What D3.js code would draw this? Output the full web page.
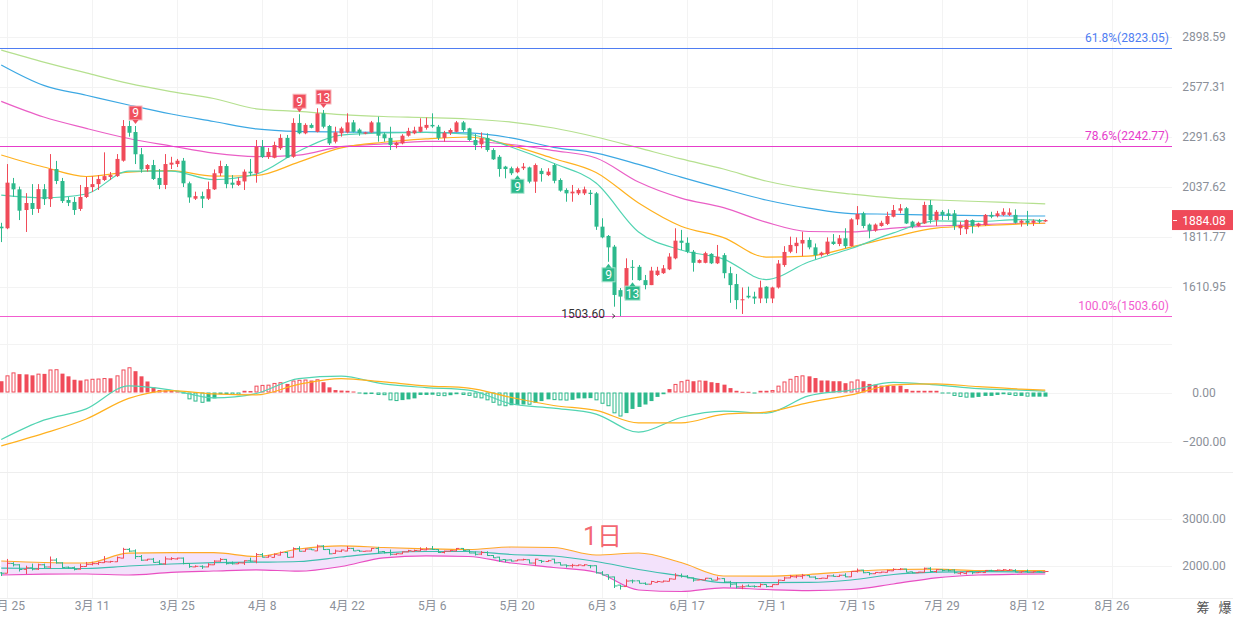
<!DOCTYPE html>
<html>
<head>
<meta charset="utf-8">
<title>日K</title>
<style>
  body { margin: 0; background: #fff; }
  svg text { font-family: Roboto, "Noto Sans CJK SC", sans-serif; }
</style>
</head>
<body>
<svg id="chart" width="1233" height="617"></svg>
<script src="https://cdnjs.cloudflare.com/ajax/libs/d3/7.8.5/d3.min.js"></script>
<script>
// ---- data ----
var firstDay = '2023-02-24';

// [open, high, low, close], one per day
var ohlc = [
  [1855,1872,1789,1848],[1848,2149,1844,2057],[2054,2080,1990,2025],[2025,2038,1884,1926],[1929,2007,1832,1961],
  [1961,2050,1907,1934],[1934,2050,1916,2026],[2026,2050,1952,1979],[1979,2200,1943,2124],[2124,2165,2050,2065],
  [2065,2080,1961,1970],[1975,1989,1947,1962],[1966,1989,1907,1929],[1934,2046,1925,1989],[1989,2085,1984,2036],
  [2036,2089,2012,2050],[2050,2094,2022,2075],[2070,2209,2065,2089],[2085,2109,2070,2094],[2089,2200,2085,2175],
  [2166,2383,2161,2350],[2350,2379,2292,2313],[2317,2350,2149,2199],[2199,2232,2106,2122],[2124,2149,2111,2144],
  [2144,2170,2070,2075],[2080,2124,2026,2046],[2046,2200,2026,2149],[2146,2186,2124,2156],[2149,2175,2134,2166],
  [2166,2180,2036,2054],[2054,2062,1962,1987],[1981,2014,1975,1993],[1993,2014,1938,1981],[1981,2062,1975,2026],
  [2025,2122,2022,2103],[2103,2166,2089,2139],[2139,2149,2030,2050],[2057,2094,2030,2047],[2046,2083,2041,2066],
  [2063,2122,2022,2111],[2111,2175,2089,2103],[2103,2274,2057,2239],[2239,2274,2180,2185],[2185,2232,2175,2211],
  [2181,2265,2178,2247],[2230,2305,2221,2285],[2285,2301,2180,2181],[2186,2393,2181,2367],[2367,2416,2305,2310],
  [2310,2365,2305,2356],[2356,2365,2337,2340],[2318,2450,2315,2421],[2421,2440,2337,2346],[2350,2356,2247,2256],
  [2265,2346,2256,2315],[2310,2346,2292,2337],[2315,2421,2310,2370],[2370,2383,2315,2318],[2330,2337,2297,2312],
  [2308,2318,2305,2315],[2315,2378,2312,2370],[2370,2402,2265,2297],[2305,2315,2265,2283],[2285,2346,2221,2247],
  [2247,2265,2230,2259],[2256,2305,2251,2297],[2297,2340,2292,2323],[2310,2346,2305,2326],[2318,2393,2315,2346],
  [2340,2397,2330,2356],[2356,2421,2340,2348],[2346,2356,2274,2285],[2285,2323,2265,2313],[2313,2337,2301,2328],
  [2318,2378,2315,2370],[2370,2378,2318,2328],[2337,2340,2269,2274],[2274,2306,2221,2247],[2251,2315,2230,2283],
  [2285,2310,2212,2221],[2221,2230,2170,2173],[2186,2195,2086,2124],[2136,2140,2078,2124],[2128,2136,2094,2103],
  [2108,2136,2103,2128],[2128,2154,2119,2136],[2132,2136,2054,2062],[2062,2152,2008,2144],[2115,2128,2062,2099],
  [2094,2128,2089,2111],[2144,2152,2054,2066],[2070,2078,2014,2019],[2022,2030,1967,2006],[2006,2046,1967,2014],
  [2006,2030,1998,2022],[2006,2038,1998,2025],[2009,2022,1952,2003],[2006,2012,1841,1855],[1855,1892,1805,1809],
  [1815,1819,1708,1767],[1770,1777,1537,1580],[1598,1606,1503.6,1574],[1567,1722,1564,1683],[1688,1715,1636,1686],
  [1688,1695,1634,1636],[1636,1656,1601,1617],[1617,1688,1617,1673],[1656,1688,1652,1673],[1663,1695,1660,1682],
  [1678,1743,1675,1729],[1722,1848,1718,1795],[1795,1841,1756,1786],[1786,1809,1743,1749],[1749,1756,1669,1704],
  [1704,1718,1702,1715],[1704,1749,1702,1743],[1740,1743,1699,1702],[1702,1777,1699,1729],[1735,1743,1643,1663],
  [1663,1688,1551,1617],[1621,1660,1528,1561],[1561,1608,1511,1564],[1577,1611,1567,1571],[1574,1592,1547,1567],
  [1567,1634,1550,1608],[1611,1613,1550,1567],[1567,1611,1550,1608],[1608,1715,1604,1701],[1695,1772,1688,1748],
  [1749,1812,1743,1777],[1772,1809,1743,1786],[1783,1833,1731,1798],[1798,1809,1759,1767],[1767,1783,1718,1735],
  [1735,1749,1729,1745],[1740,1809,1735,1791],[1791,1823,1777,1781],[1781,1819,1772,1805],[1805,1848,1763,1772],
  [1772,1892,1770,1887],[1887,1947,1862,1911],[1914,1921,1848,1858],[1864,1869,1805,1838],[1838,1869,1833,1864],
  [1858,1881,1855,1872],[1867,1921,1862,1902],[1899,1952,1896,1929],[1926,1956,1914,1937],[1937,1943,1867,1869],
  [1877,1881,1848,1855],[1858,1877,1855,1872],[1869,1967,1867,1952],[1952,1975,1869,1884],[1884,1929,1858,1921],
  [1921,1929,1884,1907],[1914,1932,1884,1902],[1914,1929,1841,1858],[1848,1877,1819,1862],[1844,1887,1823,1884],
  [1884,1887,1826,1858],[1858,1872,1852,1869],[1862,1911,1858,1907],[1907,1921,1892,1899],[1902,1925,1896,1914],
  [1907,1937,1902,1921],[1907,1937,1902,1918],[1907,1932,1869,1872],[1872,1887,1855,1881],[1881,1925,1858,1872],
  [1872,1887,1858,1881],[1881,1889,1869,1878],[1878,1887,1876,1884.08]
];

// moving averages, read every 7th day
var maDays = [0,7,14,21,28,35,42,49,56,63,70,77,84,91,98,105,112,119,126,133,140,147,154,161,168,172];
var maTeal = [1998,1985,2003,2114,2114,2072,2099,2215,2300,2312,2315,2305,2237,2153,2055,1832,1756,1719,1638,1707,1762,1828,1880,1878,1886,1881];
var maOrange = [2195,2134,2087,2109,2116,2089,2092,2159,2232,2262,2280,2290,2245,2177,2107,1961,1857,1808,1727,1731,1768,1811,1849,1858,1867,1870];
var maPink = [2490,2400,2337,2282,2242,2205,2187,2195,2239,2253,2267,2266,2250,2218,2180,2060,1984,1940,1875,1834,1832,1849,1858,1864,1869,1870];
var maBlue = [2712,2585,2526,2469,2417,2375,2334,2320,2317,2315,2315,2312,2285,2235,2205,2147,2084,2027,1975,1938,1913,1910,1906,1904,1902,1902];
var maGreen = [2809,2731,2662,2597,2548,2507,2447,2432,2414,2403,2397,2389,2372,2339,2290,2232,2175,2124,2065,2027,2003,1984,1975,1968,1961,1957];

// MACD
var macdHist = [
  46,70,82,75,74,70,77,76,94,95,
  77,66,52,49,53,56,57,59,58,70,
  94,103,87,66,45,21,10,9,8,7,
  -4,-28,-37,-42,-37,-24,-7,-6,-10,-11,
  7,6,28,31,32,39,42,35,49,52,
  53,49,54,42,21,10,8,7,4,-4,
  -7,-6,-10,-11,-32,-35,-31,-28,-24,-10,
  -10,-9,-14,-15,-11,-7,-10,-14,-21,-24,
  -32,-42,-53,-56,-52,-51,-49,-50,-42,-35,
  -28,-31,-32,-33,-30,-24,-24,-23,-32,-46,
  -56,-85,-98,-84,-67,-59,-49,-35,-18,-7,
  14,35,46,52,46,49,48,42,39,32,
  18,7,3,3,-3,7,7,10,28,45,
  56,67,70,66,59,49,49,46,46,38,
  45,53,46,35,32,28,28,28,28,14,
  7,7,7,7,7,-4,-4,-14,-18,-21,
  -21,-18,-14,-14,-10,-7,-10,-14,-14,-17,
  -17,-17,-17
];
var macdDif = [-192,-113,-67,27,10,-22,-4,57,67,35,20,10,-46,-64,-88,-162,-102,-76,-84,-14,10,41,31,16,10,6];
var macdDea = [-218,-167,-108,-24,8,-6,-10,33,57,43,27,18,-20,-53,-73,-124,-124,-89,-80,-41,-10,31,35,24,14,10];

// lower panel band
var bandUpper = [2105,2074,2063,2269,2280,2280,2200,2358,2425,2389,2362,2347,2400,2389,2232,2274,2074,1790,1785,1821,1884,1926,1933,1903,1903,1903];
var bandMid = [1954,1947,1947,2000,2042,2069,2080,2095,2189,2278,2305,2305,2242,2210,2095,1926,1790,1651,1651,1655,1705,1821,1869,1882,1874,1867];
var bandLower = [1811,1827,1832,1811,1867,1895,1920,1891,1989,2173,2215,2200,2063,1968,1869,1495,1463,1541,1505,1482,1505,1621,1752,1811,1827,1832];

var priceTicks = [1610.95, 1811.77, 2037.62, 2291.63, 2577.31, 2898.59];
var macdTicks = [200, 0, -200];
var lowerTicks = [3000, 2000];
var dateTicks = ['2023-02-25','2023-03-11','2023-03-25','2023-04-08','2023-04-22','2023-05-06','2023-05-20',
  '2023-06-03','2023-06-17','2023-07-01','2023-07-15','2023-07-29','2023-08-12','2023-08-26'];

var fibNames = ['61.8%', '78.6%', '100.0%'];
var fibValues = [2823.05, 2242.77, 1503.60];
var fibColors = ['#4f7df2', '#e63ccb', '#f25ccf'];

// sequential count markers: day index, text, above (up) or below (down)
var markers = [
  {i: 22, t: '9', up: true}, {i: 49, t: '9', up: true}, {i: 53, t: '13', up: true},
  {i: 85, t: '9', up: false}, {i: 100, t: '9', up: false}, {i: 104, t: '13', up: false}
];
var lastPrice = 1884.08;
var lowPrice = 1503.60;
var lowDay = 102;

// ---- drawing ----
var UP = '#f04b59', DOWN = '#2db98c';
var svg = d3.select('#chart');
var parse = d3.utcParse('%Y-%m-%d');
var start = parse(firstDay);
function dayOf(i) { return d3.utcDay.offset(start, i); }

var plotRight = 1172;
var x = d3.scaleUtc()
  .domain([parse('2023-02-25'), parse('2023-08-26')])
  .range([7.3, 1112]);
function xi(i) { return x(dayOf(i)); }

var y = d3.scaleLog().domain([1610.95, 2898.59]).range([286.7, 36.7]);
var yM = d3.scaleLinear().domain([-200, 0]).range([441.5, 392.5]);
var yB = d3.scaleLinear().domain([2000, 3000]).range([566, 518.5]);

svg.append('rect').attr('width', 1233).attr('height', 617).attr('fill', '#fff');

var defs = svg.append('defs');
defs.append('clipPath').attr('id', 'clipMain')
  .append('rect').attr('x', 0).attr('y', 0).attr('width', plotRight).attr('height', 332);

// grids
var grid = svg.append('g').attr('stroke', '#f3f3f3').attr('stroke-width', 1);
grid.selectAll('.vg').data(dateTicks).enter().append('line')
  .attr('x1', function(d) { return Math.round(x(parse(d))) + 0.5; })
  .attr('x2', function(d) { return Math.round(x(parse(d))) + 0.5; })
  .attr('y1', 0).attr('y2', 598);
grid.selectAll('.hg').data(priceTicks).enter().append('line')
  .attr('x1', 0).attr('x2', plotRight)
  .attr('y1', function(d) { return Math.round(y(d)) + 0.5; })
  .attr('y2', function(d) { return Math.round(y(d)) + 0.5; });
grid.selectAll('.mg').data(macdTicks).enter().append('line')
  .attr('x1', 0).attr('x2', plotRight)
  .attr('y1', function(d) { return Math.round(yM(d)) + 0.5; })
  .attr('y2', function(d) { return Math.round(yM(d)) + 0.5; });
grid.selectAll('.bg').data(lowerTicks).enter().append('line')
  .attr('x1', 0).attr('x2', plotRight)
  .attr('y1', function(d) { return Math.round(yB(d)) + 0.5; })
  .attr('y2', function(d) { return Math.round(yB(d)) + 0.5; });
svg.append('line').attr('x1', 0).attr('x2', 1233).attr('y1', 472.5).attr('y2', 472.5).attr('stroke', '#eeeeee');
svg.append('line').attr('x1', 0).attr('x2', 1233).attr('y1', 598.5).attr('y2', 598.5).attr('stroke', '#eeeeee');

// main panel
var main = svg.append('g').attr('clip-path', 'url(#clipMain)');

function maLine(vals, scale) {
  return d3.line()
    .x(function(d, k) { return xi(maDays[k]); })
    .y(function(d) { return scale(d); })
    .curve(d3.curveMonotoneX)(vals);
}

var maSets = [
  {v: maGreen, c: '#b5e08f'}, {v: maBlue, c: '#3ca8e3'}, {v: maPink, c: '#ea5fc6'},
  {v: maOrange, c: '#ffb11f'}, {v: maTeal, c: '#52d4b2'}
];
maSets.forEach(function(s) {
  main.append('path').attr('d', maLine(s.v, y))
    .attr('fill', 'none').attr('stroke', s.c).attr('stroke-width', 1.2);
});

// fib levels
fibValues.forEach(function(v, k) {
  main.append('line').attr('x1', 0).attr('x2', plotRight)
    .attr('y1', Math.round(y(v)) + 0.5).attr('y2', Math.round(y(v)) + 0.5)
    .attr('stroke', fibColors[k]).attr('stroke-width', 1);
  svg.append('text').attr('x', 1169).attr('y', y(v) - 6)
    .attr('text-anchor', 'end').attr('font-size', 12).attr('fill', fibColors[k])
    .text(fibNames[k] + '(' + d3.format('.2f')(v) + ')');
});

// candles
var candles = main.selectAll('.candle').data(ohlc).enter().append('g');
candles.append('line')
  .attr('x1', function(d, i) { return Math.round(xi(i)) + 0.5; })
  .attr('x2', function(d, i) { return Math.round(xi(i)) + 0.5; })
  .attr('y1', function(d) { return y(d[1]); })
  .attr('y2', function(d) { return y(d[2]); })
  .attr('stroke', function(d) { return d[3] >= d[0] ? UP : DOWN; });
candles.append('rect')
  .attr('x', function(d, i) { return Math.round(xi(i)) - 1.5; })
  .attr('width', 4)
  .attr('y', function(d) { return y(Math.max(d[0], d[3])); })
  .attr('height', function(d) { return Math.max(1, Math.abs(y(d[0]) - y(d[3]))); })
  .attr('fill', function(d) { return d[3] >= d[0] ? UP : DOWN; });

// count markers
markers.forEach(function(m) {
  var cx = Math.round(xi(m.i)) + 0.5;
  var w = m.t.length > 1 ? 15 : 13, h = 14;
  var g = main.append('g');
  var fill = m.up ? '#f0505e' : DOWN;
  var edge = m.up ? '#f8b6bc' : '#a8e4cd';
  var top, tri;
  if (m.up) {
    var yh = y(ohlc[m.i][1]);
    top = yh - 6 - h;
    tri = [[cx - 3, yh - 6], [cx + 3, yh - 6], [cx, yh - 2]];
  } else {
    var yl = y(ohlc[m.i][2]);
    top = yl + 6;
    tri = [[cx - 3, yl + 6], [cx + 3, yl + 6], [cx, yl + 2]];
  }
  g.append('rect').attr('x', cx - w / 2).attr('y', top).attr('width', w).attr('height', h)
    .attr('fill', fill).attr('stroke', edge).attr('stroke-width', 1);
  g.append('path').attr('d', d3.line()(tri) + 'Z').attr('fill', fill);
  g.append('text').attr('x', cx).attr('y', top + 11.5).attr('text-anchor', 'middle')
    .attr('font-size', 12).attr('fill', '#fff').text(m.t);
});

// lowest price note
svg.append('text').attr('x', 605).attr('y', y(lowPrice) + 2)
  .attr('text-anchor', 'end').attr('font-size', 12).attr('fill', '#333').text(d3.format('.2f')(lowPrice));
svg.append('path')
  .attr('d', 'M' + (xi(lowDay) - 8) + ',' + (y(lowPrice) - 2) + 'l2.5,2l-2.5,2')
  .attr('fill', 'none').attr('stroke', '#333').attr('stroke-width', 1);

// price axis
var axisText = svg.append('g').attr('font-size', 12).attr('fill', '#8b9099').attr('text-anchor', 'middle');
axisText.selectAll('.pt').data(priceTicks).enter().append('text')
  .attr('x', 1204).attr('y', function(d) { return y(d) + 4; })
  .text(function(d) { return d3.format('.2f')(d); });

// last price tag
var ly = y(lastPrice);
svg.append('rect').attr('x', 1172).attr('y', ly - 10).attr('width', 61).attr('height', 20).attr('fill', '#ef4a59');
svg.append('line').attr('x1', 1173).attr('x2', 1177).attr('y1', ly + 0.5).attr('y2', ly + 0.5).attr('stroke', '#fff');
svg.append('text').attr('x', 1204).attr('y', ly + 4.5).attr('text-anchor', 'middle')
  .attr('font-size', 12).attr('fill', '#fff').text(d3.format('.2f')(lastPrice));

// MACD panel
var macdG = svg.append('g');
macdG.selectAll('.bar').data(macdHist).enter().append('rect')
  .each(function(v, i) {
    var prev = i > 0 ? macdHist[i - 1] : v;
    var hollow = i > 0 && (v > 0) === (prev > 0) && Math.abs(v) > Math.abs(prev);
    var c = v >= 0 ? UP : DOWN;
    var top = Math.min(yM(0), yM(v));
    var hgt = Math.max(1, Math.abs(yM(v) - yM(0)));
    var bx = Math.round(xi(i)) - 1.5;
    var r = d3.select(this);
    if (hollow) {
      r.attr('x', bx + 0.5).attr('y', top + 0.5).attr('width', 3).attr('height', Math.max(0.5, hgt - 1))
        .attr('fill', '#fff').attr('stroke', c).attr('stroke-width', 1);
    } else {
      r.attr('x', bx).attr('y', top).attr('width', 4).attr('height', hgt).attr('fill', c);
    }
  });
macdG.append('path').attr('d', maLine(macdDif, yM)).attr('fill', 'none').attr('stroke', '#52d4b2').attr('stroke-width', 1.2);
macdG.append('path').attr('d', maLine(macdDea, yM)).attr('fill', 'none').attr('stroke', '#ffb11f').attr('stroke-width', 1.2);
axisText.selectAll('.mt').data([0, -200]).enter().append('text')
  .attr('x', 1204).attr('y', function(d) { return yM(d) + 4; })
  .text(function(d) { return d3.format('.2f')(d); });

// lower panel
var low = svg.append('g');
var area = d3.area()
  .x(function(d, k) { return xi(maDays[k]); })
  .y0(function(d, k) { return yB(bandLower[k]); })
  .y1(function(d) { return yB(d); })
  .curve(d3.curveMonotoneX);
low.append('path').attr('d', area(bandUpper)).attr('fill', '#f3e2fb');
low.append('path').attr('d', maLine(bandUpper, yB)).attr('fill', 'none').attr('stroke', '#ffa928').attr('stroke-width', 1.2);
low.append('path').attr('d', maLine(bandMid, yB)).attr('fill', 'none').attr('stroke', '#3dbfae').attr('stroke-width', 1.2);
low.append('path').attr('d', maLine(bandLower, yB)).attr('fill', 'none').attr('stroke', '#e94fc2').attr('stroke-width', 1.2);

var bars = low.selectAll('.ohlc').data(ohlc).enter().append('path')
  .attr('d', function(d, i) {
    var cx = Math.round(xi(i)) + 0.5;
    return 'M' + cx + ',' + yB(d[1]) + 'V' + yB(d[2]) +
      'M' + (cx - 3) + ',' + yB(d[0]) + 'H' + cx +
      'M' + cx + ',' + yB(d[3]) + 'H' + (cx + 3);
  })
  .attr('fill', 'none').attr('stroke-width', 1)
  .attr('stroke', function(d) { return d[3] >= d[0] ? UP : DOWN; });

axisText.selectAll('.bt').data(lowerTicks).enter().append('text')
  .attr('x', 1204).attr('y', function(d) { return yB(d) + 4; })
  .text(function(d) { return d3.format('.2f')(d); });

svg.append('text').attr('x', 583).attr('y', 545).attr('font-size', 25)
  .attr('fill', '#f2545f').attr('fill-opacity', 0.9).text('1日');

// date axis
svg.append('g').attr('font-size', 12).attr('fill', '#8b9099').attr('text-anchor', 'middle')
  .selectAll('text').data(dateTicks).enter().append('text')
  .attr('x', function(d) { return x(parse(d)); })
  .attr('y', 610)
  .text(function(d) { var t = parse(d); return (t.getUTCMonth() + 1) + '月 ' + t.getUTCDate(); });

svg.append('text').attr('x', 1203).attr('y', 612).attr('text-anchor', 'middle')
  .attr('font-size', 13).attr('fill', '#555').text('筹');
svg.append('text').attr('x', 1225).attr('y', 612).attr('text-anchor', 'middle')
  .attr('font-size', 13).attr('fill', '#555').text('爆');
</script>
</body>
</html>
